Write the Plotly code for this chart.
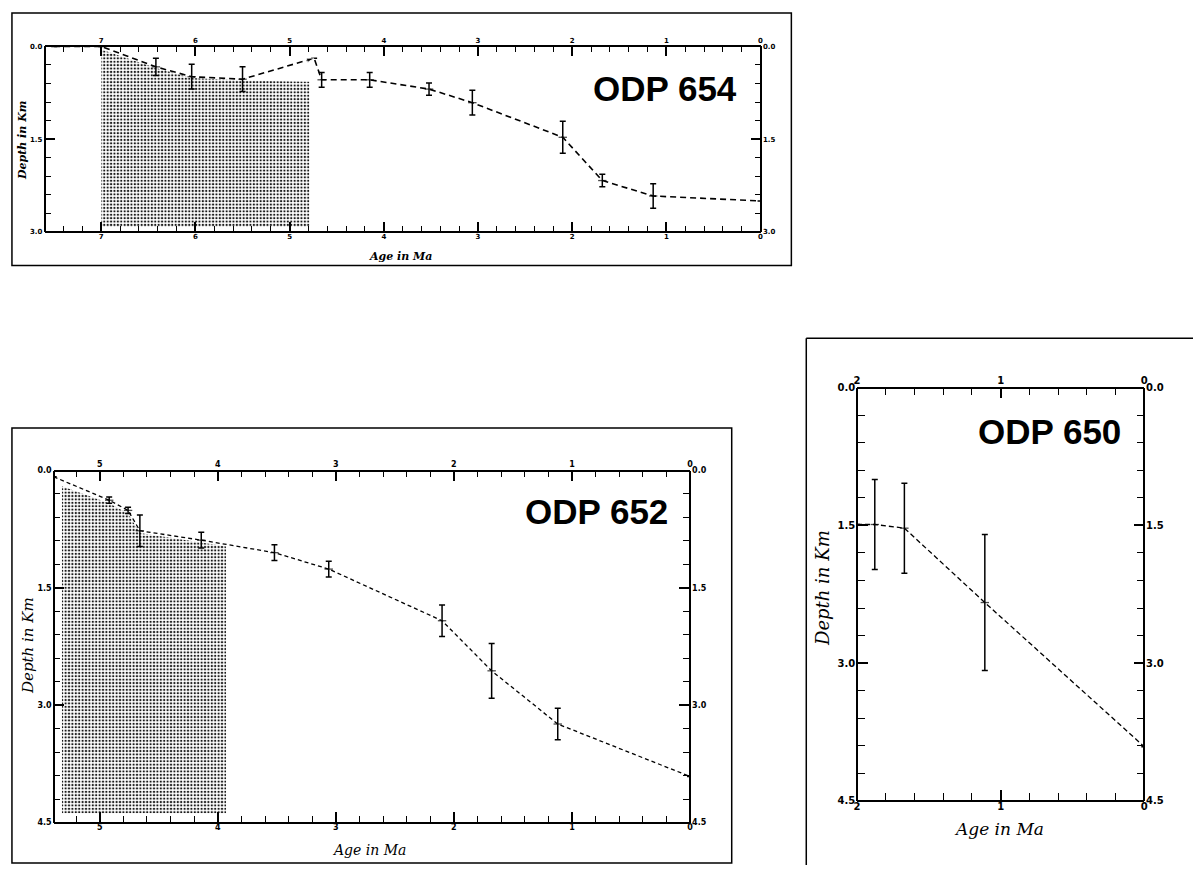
import plotly.graph_objects as go

W, H = 1197, 871

# ---------------- data ----------------
# ODP 654
age_654 = [7.5, 7.0, 6.42, 6.04, 5.5, 4.74, 4.66, 4.15, 3.52, 3.06, 2.10, 1.68, 1.14, 0.0]
depth_654 = [0.0, 0.0, 0.33, 0.49, 0.53, 0.19, 0.54, 0.54, 0.69, 0.91, 1.47, 2.17, 2.42, 2.50]
err_654 = [0, 0, 0.14, 0.20, 0.20, 0, 0.12, 0.12, 0.10, 0.20, 0.26, 0.10, 0.20, 0]
arrow_age_654 = [5.5, 4.74]
arrow_depth_654 = [0.53, 0.19]
shade_age_654 = [7.0, 6.42, 6.04, 5.5, 4.79]
shade_top_654 = [0.05, 0.35, 0.51, 0.55, 0.57]
shade_bottom_654 = 2.92

# ODP 652
age_652 = [5.39, 4.92, 4.76, 4.66, 4.14, 3.52, 3.06, 2.10, 1.68, 1.12, 0.0]
depth_652 = [0.08, 0.38, 0.51, 0.77, 0.89, 1.05, 1.26, 1.92, 2.56, 3.24, 3.91]
err_652 = [0, 0.04, 0.04, 0.20, 0.10, 0.10, 0.10, 0.20, 0.35, 0.20, 0]
shade_age_652 = [5.32, 4.92, 4.76, 4.66, 4.14, 3.93]
shade_top_652 = [0.20, 0.42, 0.55, 0.80, 0.92, 0.97]
shade_bottom_652 = 4.38

# ODP 650
age_650 = [2.0, 1.876, 1.67, 1.11, 0.0]
depth_650 = [1.49, 1.49, 1.53, 2.34, 3.91]
err_650 = [0, 0.49, 0.49, 0.74, 0]

x_title = "Age in Ma"
y_title = "Depth in Km"
labels = ["ODP 654", "ODP 652", "ODP 650"]


def px(x):
    return x / W


def py(y):
    return 1 - y / H


fig = go.Figure()


def add_panel(n, ages, depths, errs, dash, lw, shade=None):
    xa = "x" if n == 1 else f"x{n}"
    ya = "y" if n == 1 else f"y{n}"
    if shade is not None:
        sa, st, sb = shade
        xs = list(sa) + [sa[-1], sa[0]]
        ys = list(st) + [sb, sb]
        fig.add_trace(go.Scatter(
            x=xs, y=ys, xaxis=xa, yaxis=ya, mode="lines", fill="toself",
            line=dict(width=0, color="rgba(0,0,0,0)"),
            fillcolor="white",
            fillpattern=dict(shape=".", size=3.4, solidity=0.36,
                             fgcolor="#1a1a1a", bgcolor="white", fillmode="replace"),
            showlegend=False, hoverinfo="skip"))
    sizes = [6 if e > 0 else 0 for e in errs]
    fig.add_trace(go.Scatter(
        x=ages, y=depths, xaxis=xa, yaxis=ya, mode="lines+markers",
        line=dict(color="black", width=lw, dash=dash),
        marker=dict(symbol="line-ew", size=sizes, color="black",
                    line=dict(color="black", width=1.3)),
        error_y=dict(type="data", array=errs, visible=True, color="black",
                     thickness=1.5, width=3),
        showlegend=False, hoverinfo="skip"))
    xa2 = f"x{n+1}"
    ya2 = f"y{n+1}"
    fig.add_trace(go.Scatter(x=ages, y=depths, xaxis=xa2, yaxis=ya2, mode="markers",
                             marker=dict(opacity=0), showlegend=False, hoverinfo="skip"))


add_panel(1, age_654, depth_654, err_654, "6px,4px", 1.6,
          (shade_age_654, shade_top_654, shade_bottom_654))
fig.add_trace(go.Scatter(
    x=arrow_age_654, y=arrow_depth_654, mode="markers",
    marker=dict(symbol="arrow", size=[0, 8], color="black", angleref="previous"),
    showlegend=False, hoverinfo="skip"))
add_panel(3, age_652, depth_652, err_652, "4px,3px", 1.3,
          (shade_age_652, shade_top_652, shade_bottom_652))
add_panel(5, age_650, depth_650, err_650, "5px,3px", 1.3)


def axis_pair(n, xdom, ydom, xr, yr, fsize, major, minor):
    # Ticks point into the frame: each axis line sits on one edge of the frame
    # while its "side" faces the plot, so outside ticks point inward and the
    # labels (ticklabelposition="inside") fall outside the frame.
    xk = "xaxis" if n == 1 else f"xaxis{n}"
    yk = "yaxis" if n == 1 else f"yaxis{n}"
    xk2 = f"xaxis{n+1}"
    yk2 = f"yaxis{n+1}"
    xname = "x" if n == 1 else f"x{n}"
    yname = "y" if n == 1 else f"y{n}"
    tf = dict(family="DejaVu Sans", size=fsize, color="black", weight="bold")
    common_x = dict(range=xr, domain=xdom, anchor="free", showline=True, linecolor="black",
                    linewidth=1.5, ticks="outside", ticklen=major, tickwidth=1.5,
                    tickcolor="black", dtick=1, tick0=0, tickformat="d",
                    ticklabelposition="inside", ticklabeloverflow="allow",
                    minor=dict(dtick=0.2, ticks="outside", ticklen=minor,
                               tickwidth=1.2, tickcolor="black", showgrid=False),
                    showgrid=False, zeroline=False, tickfont=tf, fixedrange=True)
    common_y = dict(range=yr, domain=ydom, anchor="free", showline=True, linecolor="black",
                    linewidth=1.5, ticks="outside", ticklen=major, tickwidth=1.5,
                    tickcolor="black", dtick=1.5, tick0=0, tickformat=".1f",
                    ticklabelposition="inside", ticklabeloverflow="allow",
                    minor=dict(dtick=0.3, ticks="outside", ticklen=minor,
                               tickwidth=1.2, tickcolor="black", showgrid=False),
                    showgrid=False, zeroline=False, tickfont=tf, fixedrange=True)
    return {
        xk: dict(common_x, side="top", position=ydom[0]),
        xk2: dict(common_x, side="bottom", position=ydom[1], overlaying=xname),
        yk: dict(common_y, side="right", position=xdom[0]),
        yk2: dict(common_y, side="left", position=xdom[1], overlaying=yname),
    }


layout_axes = {}
layout_axes.update(axis_pair(1, [px(42), px(762)], [py(229), py(41)], [7.6, 0], [3.0, 0], 7, 9, 5))
layout_axes.update(axis_pair(3, [px(51), px(691)], [py(828), py(471)], [5.39, 0], [4.5, 0], 8, 10, 6))
layout_axes.update(axis_pair(5, [px(859), px(1148)], [py(806), py(387)], [2.0, 0], [4.5, 0], 10, 10, 7))

fig.update_layout(**layout_axes)

shapes = [
    dict(type="rect", xref="paper", yref="paper", x0=px(9), x1=px(793), y0=py(263), y1=py(7),
         line=dict(color="black", width=1.5)),
    dict(type="rect", xref="paper", yref="paper", x0=px(9), x1=px(733), y0=py(869), y1=py(428),
         line=dict(color="black", width=1.5)),
    dict(type="line", xref="paper", yref="paper", x0=px(808), x1=px(808), y0=py(871), y1=py(337),
         line=dict(color="black", width=1.5)),
    dict(type="line", xref="paper", yref="paper", x0=px(808), x1=px(1197), y0=py(337), y1=py(337),
         line=dict(color="black", width=1.5)),
]

ann = []


def txt(s, x, y, size, family, weight="normal", style="normal", angle=0):
    ann.append(dict(text=s, x=px(x), y=py(y), xref="paper", yref="paper", showarrow=False,
                    xanchor="center", yanchor="middle", textangle=angle,
                    font=dict(family=family, size=size, color="black", weight=weight, style=style)))


sans = "Liberation Sans, Arial, sans-serif"
serif = "DejaVu Serif, serif"
txt(labels[0], 666, 84, 35, sans, weight="bold")
txt(labels[1], 597, 513, 35, sans, weight="bold")
txt(labels[2], 1053, 431, 35, sans, weight="bold")

txt(y_title, 19, 136, 11, serif, weight="bold", style="italic", angle=-90)
txt(x_title, 400, 254, 11, serif, weight="bold", style="italic")
txt(y_title, 25, 648, 15, serif, style="italic", angle=-90)
txt(x_title, 368, 856, 14, serif, style="italic")
txt(y_title, 825, 590, 18, serif, style="italic", angle=-90)
txt(x_title, 1002, 834, 17, serif, style="italic")

fig.update_layout(width=W, height=H, margin=dict(l=0, r=0, t=0, b=0),
                  paper_bgcolor="white", plot_bgcolor="rgba(0,0,0,0)",
                  shapes=shapes, annotations=ann, showlegend=False)

fig.write_html("out.html")
